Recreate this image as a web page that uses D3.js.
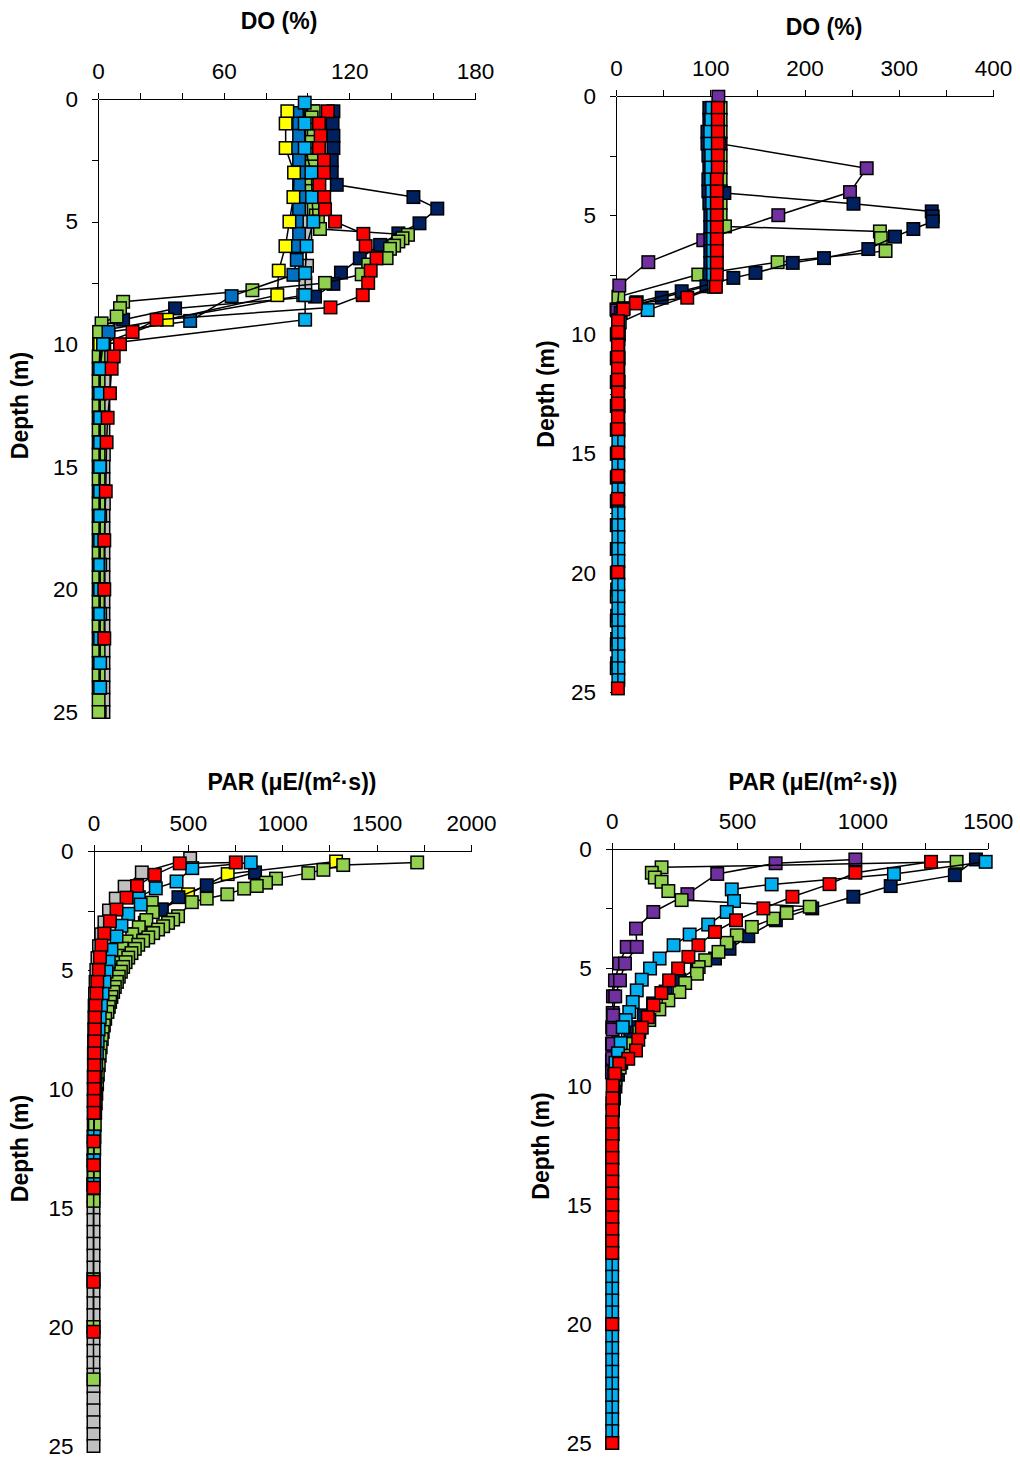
<!DOCTYPE html>
<html>
<head>
<meta charset="utf-8">
<script src="https://cdn.jsdelivr.net/npm/d3@7"></script>
<style>
  body { margin: 0; background: #fff; }
  svg text { font-family: "Liberation Sans", Arial, sans-serif; fill: #000; }
</style>
</head>
<body>
<svg id="chart" width="1020" height="1459"></svg>
<script>
// ---- Axis ticks ----
const depthTicks = [0, 5, 10, 15, 20, 25];
const depthMinor = [0, 2.5, 5, 7.5, 10, 12.5, 15, 17.5, 20, 22.5, 25];
const doLeftTicks = [0, 60, 120, 180];
const doLeftMinor = [0, 20, 40, 60, 80, 100, 120, 140, 160, 180];
const doRightTicks = [0, 100, 200, 300, 400];
const doRightMinor = [0, 50, 100, 150, 200, 250, 300, 350, 400];
const parLeftTicks = [0, 500, 1000, 1500, 2000];
const parLeftMinor = [0, 250, 500, 750, 1000, 1250, 1500, 1750, 2000];
const parRightTicks = [0, 500, 1000, 1500];
const parRightMinor = [0, 250, 500, 750, 1000, 1250, 1500];

// ---- Profiles: [depth (m), value] ----
// Dissolved oxygen, first lake
const doL_gray = [[0.5,102.5],[1,104],[1.5,103],[2,102],[2.5,101],[3,102],[3.5,101],[4,101],[4.5,100],[5,98],[5.5,99],[6,99],[6.8,99.8],[7.5,99],[8,98],[9.4,4.9],[10,3],[10.5,2.6],[11,2.6],[11.5,2.8],[12,2.6],[12.5,2.6],[13,2.8],[13.5,2.6],[14,2.6],[14.5,2.8],[15,2.6],[15.5,2.6],[16,2.6],[16.5,2.8],[17,2.6],[17.5,2.6],[18,2.6],[18.5,2.6],[19,2.6],[19.5,2.6],[20,2.6],[20.5,2.6],[21,2.6],[21.5,2.6],[22,2.6],[22.5,2.6],[23,2.6],[23.5,2.6],[24,2.6],[24.5,2.6],[25,2.6]];
const doL_navy = [[0.5,112.4],[1,112],[1.5,112.4],[2,112.4],[2.5,111.6],[3,111.6],[3.5,114],[4,150.6],[4.47,162],[5.07,153.5],[5.48,143.4],[5.95,134.7],[6.5,125],[7.08,116],[7.54,112.4],[8.06,103.6],[8.54,36.8],[9,12],[9.5,1.5],[10,1],[11,0.8],[12,0.8],[13,0.8],[14,0.8],[15,0.8],[16,0.8],[17,0.8],[18,0.8],[19,0.8],[20,0.8],[21,0.8],[22,0.8],[23,0.8],[24,0.8],[25,0.8]];
const doL_green = [[0.5,103],[0.75,102],[1,101],[1.25,102],[1.5,103],[1.75,102],[2,101],[2.25,102],[2.5,103],[2.75,102],[3,103],[3.25,102],[3.5,101],[3.75,102],[4,103],[4.25,104],[4.5,103],[4.75,104],[5,105],[5.3,106],[5.54,148],[5.68,145.4],[5.81,143.4],[5.98,141.4],[6.11,139.4],[6.49,137.8],[6.75,129],[7.15,125.9],[7.5,108.4],[7.8,73.7],[8.27,12],[8.53,10.5],[8.87,8.9],[9.15,1.7],[9.5,0.5],[10,0.5],[10.5,0.3],[11,0.3],[11.5,0.3],[12,0.3],[12.5,0.3],[13,0.3],[13.5,0.3],[14,0.3],[14.5,0.3],[15,0.3],[15.5,0.3],[16,0.3],[16.5,0.3],[17,0.3],[17.5,0.3],[18,0.3],[18.5,0.3],[19,0.3],[19.5,0.3],[20,0.3],[20.5,0.3],[21,0.3],[21.5,0.3],[22,0.3],[22.5,0.3],[23,0.3],[23.5,0.3],[24,0.3],[24.5,0.3],[25,0.3]];
const doL_blue = [[0.57,95],[1,96],[1.5,96],[2,95],[2.5,96],[3,97],[3.5,96],[4,97],[4.5,96],[5,95],[5.5,96],[6,95],[6.56,94.9],[7.17,93.3],[8.04,63.8],[9.05,44],[9.5,5],[10,1.5],[11,1],[12,1],[13,1],[14,1],[15,1],[16,1],[17,1],[18,1],[19,1],[20,1],[21,1],[22,1],[23,1],[24,1]];
const doL_yellow = [[0.5,90.4],[1,89.6],[2,89.6],[3,93.6],[4,93.3],[5,91.4],[6,89.5],[7,86.3],[8,85.6],[9,33],[10,1],[11,0.5],[12,0.5],[13,0.5],[14,0.5],[15,0.5],[16,0.5],[17,0.5],[18,0.5],[19,0.5],[20,0.5],[21,0.5],[22,0.5],[23,0.5],[24,0.5]];
const doL_cyan = [[0.15,98.7],[1,98.7],[2,98.7],[3,101.9],[4,102.2],[5,102.8],[6,99.6],[7.1,98.9],[8,98.9],[9,98.9],[10,2.4],[11,1],[12,1],[13,1],[14,1],[15,1],[16,1],[17,1],[18,1],[19,1],[20,1],[21,1],[22,1],[23,1],[24,1]];
const doL_red = [[0.5,109.7],[1,105.5],[1.5,106.3],[2,105.5],[2.5,107.9],[3,107.9],[3.5,105.7],[4,108],[4.5,108.4],[5,113.2],[5.5,126.7],[6,127.8],[6.5,133],[7,130.2],[7.5,129],[8,126.4],[8.5,111],[9,28],[9.5,16.5],[10,10.5],[10.5,7.5],[11,6.5],[12,5.7],[13,4.6],[14,4.1],[16,3.7],[18,3],[20,3],[22,3]];

// Dissolved oxygen, second lake
const doR_green = [[0.5,111],[1,111],[1.5,111],[2,111],[2.5,111],[3,111],[3.5,111],[4,111],[4.5,111],[5,111],[5.47,115.6],[5.68,280],[5.96,281],[6.5,286],[6.97,171.5],[7.49,87.3],[8.42,2.5],[8.95,0.5],[10,0.8],[11,0.8],[12,0.8],[13,0.8],[14,0.8],[15,0.8],[16,0.8],[17,0.8],[18,0.8],[19,0.8],[20,0.8],[21,0.8],[22,0.8],[23,0.8],[24,0.8]];
const doR_purple = [[0.03,108.6],[0.5,108],[1,108],[1.5,108],[2,110],[3.03,266],[4.03,248.3],[5,172.2],[6.05,92.6],[6.97,34.3],[7.95,3.5],[9,1.2],[10,1.2],[11,1.2],[12,1.2],[13,1.2],[14,1.2],[15,1.2],[16,1.2],[17,1.2],[18,1.2],[19,1.2],[20.7,1.2],[21.8,1.2],[22.8,1.2],[23.8,1.2]];
const doR_navyB = [[0.5,99],[1,99],[1.5,97],[2,97],[2.5,98],[3,99],[3.5,98],[4,98],[4.5,99],[5,100],[5.5,100],[6,100],[6.5,100],[7,100],[7.5,99],[7.98,96],[8.46,48.5],[8.9,8],[9.4,3],[10,2.5],[11,2.5],[12,2.5],[13,2.5],[14,2.5]];
const doR_navyA = [[0.5,103],[1,103],[1.5,103],[2,103],[2.5,103],[3,103],[3.5,103],[4.07,115],[4.52,252],[4.84,335],[5.05,336],[5.26,336],[5.58,315.5],[5.9,296],[6.42,267.7],[6.8,220.7],[7,187.5],[7.42,148],[7.63,124.5],[8.19,69.7],[8.65,22],[9.1,5],[9.6,2.5],[10.2,2.5],[11,2.5],[12,2.5],[13,2.5]];
const doR_cyan = [[0.5,102],[1,101],[1.5,100],[2,100],[2.5,101],[3,101],[3.5,101],[4,102],[4.5,102],[5,103],[5.5,103],[6,103],[6.5,103],[7,103],[7.5,103],[8,104],[8.98,33.6],[9.5,4],[10,3],[10.5,2.5],[11,2.5],[11.5,2.5],[12,2.5],[12.5,2.5],[13,2.5],[13.5,2.5],[14,2.5],[14.5,2.5],[15,2.5],[15.5,2.5],[16,2.5],[16.5,2.5],[17,2.5],[17.5,2.5],[18,2.5],[18.5,2.5],[19,2.5],[19.5,2.5],[20,2.5],[20.5,2.5],[21,2.5],[21.5,2.5],[22,2.5],[22.5,2.5],[23,2.5],[23.5,2.5],[24,2.5],[24.5,2.5]];
const doR_red = [[0.5,108],[1,108],[1.5,108],[2,108],[2.5,108],[3,108],[3.5,107],[4,107],[4.5,107],[5,107],[5.5,107],[6,107],[6.5,107],[7,107],[7.5,107],[8,106],[8.46,75.6],[8.7,21],[8.95,7.8],[9.44,2.2],[9.9,2],[10.46,2],[10.95,2],[11.44,2],[11.9,2],[12.44,2],[12.9,2],[13.46,2],[13.97,2],[14.95,2],[15.93,2],[16.9,2],[19.97,2],[24.85,2]];

// Photosynthetically active radiation, first lake
const parL_gray = [[0.31,512],[0.9,256],[1.5,165],[2,118],[2.5,82],[3,58],[3.5,41],[4,29],[4.5,21],[5,15],[5.5,11],[6,8],[6.5,6],[7,5],[7.5,4],[8,3],[8.5,2],[9,2],[9.5,1],[10,1],[10.5,1],[11,1],[11.5,1],[12,0],[12.5,0],[13,0],[13.5,0],[14,0],[14.5,0],[15,0],[15.5,0],[16,0],[16.5,0],[17,0],[17.5,0],[18,0],[18.5,0],[19,0],[19.5,0],[20,0],[20.5,0],[21,0],[21.5,0],[22,0],[22.5,0],[23,0],[23.5,0],[24,0],[24.5,0],[25,0]];
const parL_yellow = [[0.44,1285],[0.97,711],[1.82,501],[2.46,360],[3.02,272],[3.49,212],[3.95,168],[4.45,133],[4.95,106],[5.45,85],[5.95,67],[6.45,53],[6.95,42],[7.45,33],[7.95,26],[8.5,20],[9,15],[10,8]];
const parL_navy = [[0.9,856],[1.44,600],[1.94,450],[2.46,362],[3.02,274],[3.49,212],[3.95,170],[4.45,135],[4.95,108],[5.45,86],[5.95,68],[6.45,54],[6.95,43],[7.45,34],[7.95,27],[8.5,21],[9,16],[9.5,12],[10,9],[10.5,7],[11,5],[12,3],[13,2],[14,1]];
const parL_greenB = [[2.17,309],[2.57,314],[2.9,280],[3.2,240],[3.5,205],[3.8,175],[4.1,150],[4.4,128],[4.7,108],[5,92],[5.3,78],[5.6,66],[5.9,56],[6.2,48],[6.5,41],[6.8,35],[7.2,29],[7.6,24],[8,20],[8.5,16],[9,12],[9.5,9],[10,7],[11,4],[12,2],[13,1],[14,1],[14.7,0],[18,0],[20,0],[22.2,0]];
const parL_greenA = [[0.48,1715],[0.59,1323],[0.79,1218],[0.93,1138],[1.16,967],[1.33,914],[1.47,865],[1.58,798],[1.82,709],[2,600],[2.15,521],[2.74,448],[2.88,422],[3.02,395],[3.16,369],[3.3,342],[3.45,316],[3.63,290],[3.77,263],[3.94,237],[4.11,219],[4.29,201],[4.48,184],[4.67,170],[4.87,157],[5.07,145],[5.28,134],[5.5,124],[5.71,113],[5.92,104],[6.13,95],[6.34,88],[6.55,81],[6.76,74],[7.05,62],[7.33,55],[7.6,49],[7.9,44],[8.25,38],[8.6,33],[9,28],[9.4,23],[9.8,19],[10.2,15],[10.6,12],[11,9],[11.5,7],[12,5],[12.5,4],[13,3],[13.5,2],[14,1]];
const parL_cyan = [[0.48,833],[0.72,523],[1.28,440],[1.57,330],[1.94,240],[2.25,250],[2.64,184],[3.14,148],[3.59,122],[4.15,95],[4.65,81],[5.07,69],[5.5,58],[6,48],[6.5,40],[7,33],[7.5,27],[8,22],[8.5,18],[9,14],[9.5,11],[10,8],[10.5,6],[11,5],[12,3],[13,2],[14,2]];
const parL_red = [[0.48,754],[0.52,457],[1,325],[1.47,231],[1.96,175],[2.46,122],[2.95,87],[3.47,57],[3.97,42],[4.46,34],[5,28],[5.5,20],[5.99,16],[6.5,11],[7,8],[7.5,7],[8,6],[8.5,5],[9,4],[9.5,3],[10,3],[10.5,2],[11,2],[12.2,1],[13.2,1],[14.15,1],[18.1,0],[20.2,0]];

// Photosynthetically active radiation, second lake
const parR_navy = [[0.44,1453],[1.1,1369],[1.56,1113],[2.01,964],[2.5,800],[3,655],[3.67,545],[4.2,470],[4.61,412],[5,340],[5.5,270],[6,215],[6.5,165],[7,128],[7.5,98],[8,74],[8.5,55],[9,38],[9.5,25],[10,15],[10.5,9],[11,5],[12,3],[13,2]];
const parR_purpleB = [[4.12,60],[4.82,30],[5.53,13],[6.2,5],[6.9,4],[7.5,2],[8.2,1],[8.9,1]];
const parR_purpleA = [[0.44,972],[0.6,654],[1.05,421],[1.9,302],[2.65,166],[3.35,97],[4.12,100],[4.82,53],[5.53,33],[6.2,14],[7,6],[7.6,4],[8.2,3],[8.8,2],[9.4,1]];
const parR_green = [[0.54,1376],[0.77,199],[1,160],[1.2,172],[1.38,199],[1.77,226],[2.15,279],[2.43,790],[2.69,698],[2.93,645],[3.28,559],[3.63,499],[3.95,459],[4.33,426],[4.68,373],[4.97,347],[5.25,340],[5.64,293],[6.02,270],[6.37,226],[6.75,190],[7.2,150],[7.7,110],[8.2,80],[8.7,55],[9.2,32],[9.7,15],[10.2,6],[10.7,3]];
const parR_cyan = [[0.54,1492],[1.05,1126],[1.49,638],[1.7,479],[2.19,488],[2.65,459],[3.18,385],[3.6,311],[4.05,247],[4.61,191],[5.03,153],[5.5,120],[5.95,100],[6.44,84],[6.86,70],[7.2,56],[7.5,44],[8.17,36],[8.6,25],[9,15],[9.5,10],[10,7],[10.5,5],[11,4],[11.5,3],[12,3],[12.5,2],[13,2],[13.5,2],[14,2],[14.5,2],[15,2],[15.5,2],[16,2],[16.5,2],[17,2],[17.5,2],[18,2],[18.5,2],[19,2],[19.5,2],[20,2],[20.5,2],[21,2],[21.5,2],[22,2],[22.5,2],[23,2],[23.5,2],[24,2],[24.5,2],[25,2]];
const parR_red = [[0.54,1274],[1,972],[1.48,869],[2.01,721],[2.5,605],[3,496],[3.49,412],[4.05,346],[4.54,306],[5.03,265],[5.53,229],[6.06,198],[6.58,167],[7.08,144],[7.52,120],[8.03,106],[8.48,97],[8.83,66],[9.04,30],[9.46,13],[9.96,4],[10.5,3],[11,3],[11.5,2],[12,2],[12.5,2],[13,2],[13.5,2],[14,2],[14.5,2],[15,2],[15.5,2],[16,2],[16.5,2],[17,2],[20,2],[25,2]];

// ---- Colours ----
const palette = {
  gray: "#C0C0C0", navy: "#002060", green: "#92D050", blue: "#0070C0",
  yellow: "#FFFF00", cyan: "#00B0F0", red: "#FF0000", purple: "#7030A0"
};

// ---- Panel layout ----
const panels = [
  { box: { left: 98, right: 475, top: 99, bottom: 712 }, domain: [0, 180],
    ticks: doLeftTicks, minor: doLeftMinor, title: ["DO (%)"], titleX: 279, titleY: 29,
    yTitleX: 28, series: [
      [doL_gray, palette.gray], [doL_navy, palette.navy], [doL_green, palette.green],
      [doL_blue, palette.blue], [doL_yellow, palette.yellow], [doL_cyan, palette.cyan], [doL_red, palette.red]] },
  { box: { left: 616, right: 993, top: 96, bottom: 692 }, domain: [0, 400],
    ticks: doRightTicks, minor: doRightMinor, title: ["DO (%)"], titleX: 824, titleY: 35,
    yTitleX: 554, series: [
      [doR_green, palette.green], [doR_purple, palette.purple], [doR_navyB, palette.navy],
      [doR_navyA, palette.navy], [doR_cyan, palette.cyan], [doR_red, palette.red]] },
  { box: { left: 93.5, right: 471, top: 851, bottom: 1446 }, domain: [0, 2000],
    ticks: parLeftTicks, minor: parLeftMinor, title: ["PAR (μE/(m", "2", "·s))"], titleX: 292, titleY: 790,
    yTitleX: 28, series: [
      [parL_gray, palette.gray], [parL_yellow, palette.yellow], [parL_navy, palette.navy],
      [parL_greenB, palette.green], [parL_greenA, palette.green], [parL_cyan, palette.cyan], [parL_red, palette.red]] },
  { box: { left: 611.7, right: 987.7, top: 849, bottom: 1443 }, domain: [0, 1500],
    ticks: parRightTicks, minor: parRightMinor, title: ["PAR (μE/(m", "2", "·s))"], titleX: 813, titleY: 790,
    yTitleX: 549, series: [
      [parR_navy, palette.navy], [parR_purpleB, palette.purple], [parR_purpleA, palette.purple],
      [parR_green, palette.green], [parR_cyan, palette.cyan], [parR_red, palette.red]] }
];

const svg = d3.select("#chart");
const markerSize = 12.5;
const tickFont = 22.5;
const titleFont = 23;

panels.forEach(p => {
  const x = d3.scaleLinear().domain(p.domain).range([p.box.left, p.box.right]);
  const y = d3.scaleLinear().domain([0, 25]).range([p.box.top, p.box.bottom]);
  const g = svg.append("g");

  // top value axis
  const xAxis = d3.axisTop(x).tickValues(p.minor).tickSize(6).tickSizeOuter(0).tickPadding(14)
    .tickFormat(d => p.ticks.includes(d) ? d : "");
  const gx = g.append("g").attr("transform", `translate(0,${p.box.top})`).call(xAxis);
  // left depth axis
  const yAxis = d3.axisLeft(y).tickValues(depthMinor).tickSize(6).tickSizeOuter(0).tickPadding(14)
    .tickFormat(d => depthTicks.includes(d) ? d : "");
  const gy = g.append("g").attr("transform", `translate(${p.box.left},0)`).call(yAxis);
  [gx, gy].forEach(a => {
    a.selectAll("text").attr("font-size", tickFont).attr("font-family", '"Liberation Sans", Arial, sans-serif').attr("fill", "#000");
    a.selectAll("line,path").attr("stroke", "#000").attr("stroke-width", 1).attr("shape-rendering", "crispEdges");
  });

  // titles
  const t = g.append("text").attr("x", p.titleX).attr("y", p.titleY).attr("text-anchor", "middle")
    .attr("font-size", titleFont).attr("font-weight", "bold");
  if (p.title.length === 1) {
    t.text(p.title[0]);
  } else {
    t.append("tspan").text(p.title[0]);
    t.append("tspan").attr("font-size", 15).attr("dy", -8).text(p.title[1]);
    t.append("tspan").attr("dy", 8).text(p.title[2]);
  }
  g.append("text")
    .attr("transform", `translate(${p.yTitleX},${(p.box.top + p.box.bottom) / 2}) rotate(-90)`)
    .attr("text-anchor", "middle").attr("font-size", titleFont).attr("font-weight", "bold")
    .text("Depth (m)");

  // profiles: connecting line, then square markers
  const line = d3.line().x(d => x(d[1])).y(d => y(d[0]));
  p.series.forEach(([data, color]) => {
    const sg = g.append("g");
    sg.append("path").datum(data).attr("d", line).attr("fill", "none")
      .attr("stroke", "#000").attr("stroke-width", 1.5);
    sg.selectAll("rect").data(data).join("rect")
      .attr("x", d => x(d[1]) - markerSize / 2).attr("y", d => y(d[0]) - markerSize / 2)
      .attr("width", markerSize).attr("height", markerSize)
      .attr("fill", color).attr("stroke", "#000").attr("stroke-width", 1.5);
  });
});
</script>
</body>
</html>
